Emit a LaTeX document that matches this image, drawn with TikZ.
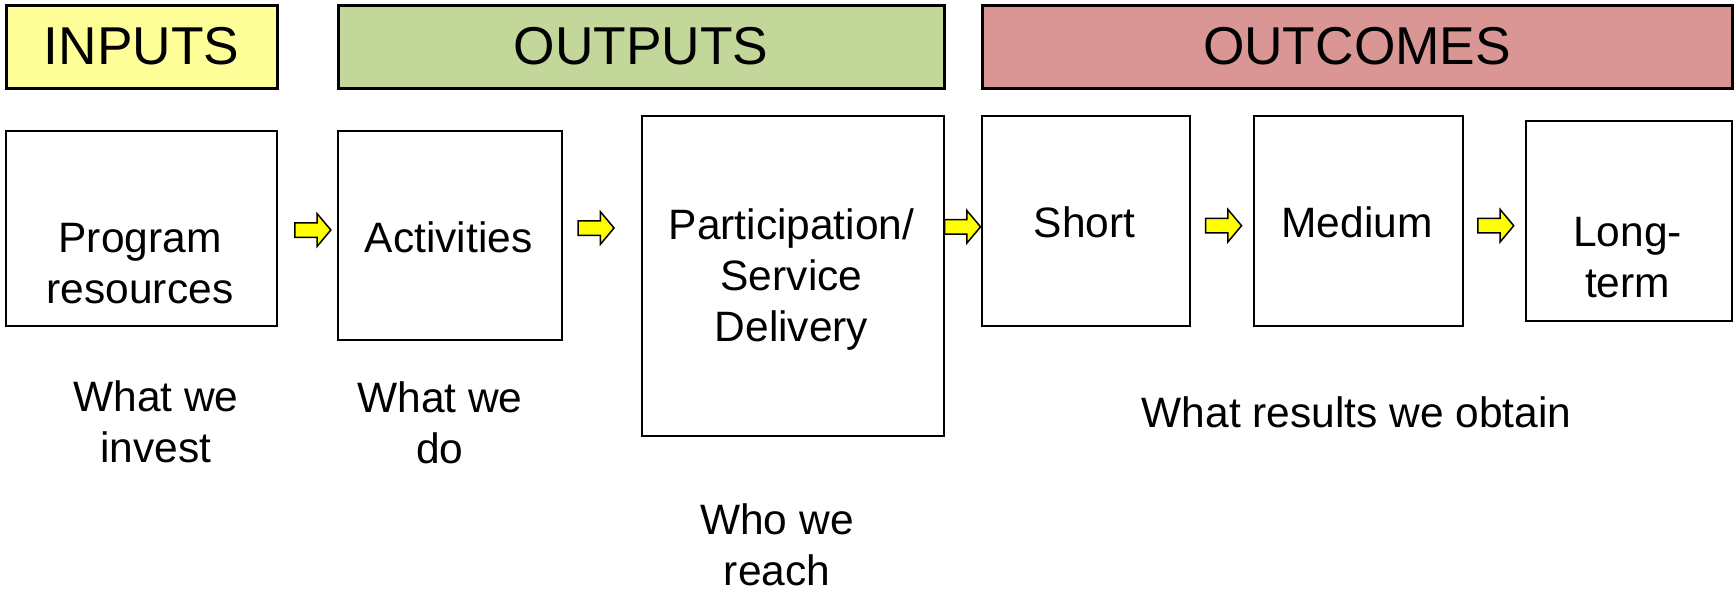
\documentclass[tikz,border=0pt]{standalone}
\usepackage{fontspec}
\setmainfont{Liberation Sans}
\usetikzlibrary{shapes.arrows}
\definecolor{inyel}{HTML}{FFFF99}
\definecolor{outgrn}{HTML}{C4D79B}
\definecolor{outred}{HTML}{D99694}
\definecolor{arryel}{HTML}{FFFF00}
\tikzset{
  header/.style={draw=black, line width=3pt, anchor=north west, inner sep=0pt},
  htext/.style={inner sep=0pt, font=\fontsize{53.3}{60}\selectfont},
  stagebox/.style={draw=black, line width=2pt, anchor=north west, inner sep=0pt, fill=white},
  lbl/.style={align=center, inner sep=0pt, font=\fontsize{42.5}{51}\selectfont},
  yarrow/.style={single arrow, draw=black, line width=1.5pt, fill=arryel, inner sep=6.5pt,
    single arrow head extend=9pt, minimum height=36pt, single arrow tip angle=100}
}
\begin{document}
\begin{tikzpicture}[x=1pt,y=-1pt]
\useasboundingbox (0,0) rectangle (1735,592);
% headers
\node[header, fill=inyel, minimum width=271pt, minimum height=83pt] (hin) at (4.5,3.5) {};
\node[htext] at (hin.center) (thin) {INPUTS};
\node[header, fill=outgrn, minimum width=606pt, minimum height=83pt] (hout) at (336.5,3.5) {};
\node[htext] at (hout.center) (thout) {OUTPUTS};
\node[header, fill=outred, minimum width=750pt, minimum height=83pt] (hoc) at (980.5,3.5) {};
\node[htext] at (hoc.center) (thoc) {OUTCOMES};
% boxes
\node[stagebox, minimum width=271pt, minimum height=195pt] (pr) at (4.5,129.5) {};
\node[stagebox, minimum width=224.5pt, minimum height=209pt] (act) at (336.5,129.5) {};
\node[stagebox, minimum width=302pt, minimum height=320pt] (part) at (640.7,115) {};
\node[stagebox, minimum width=208pt, minimum height=210pt] (short) at (980.5,115) {};
\node[stagebox, minimum width=209pt, minimum height=210pt] (med) at (1252.6,115) {};
\node[stagebox, minimum width=206pt, minimum height=200pt] (long) at (1524.8,119.5) {};
% box texts
\node[lbl] (tpr) at (140,264) {Program\\resources};
\node[lbl] (tact) at (448.5,237) {Activities};
\node[lbl] (tpart) at (791.5,280) {Participation/\\Service\\Delivery};
\node[lbl] (tshort) at (1084.5,222.5) {Short};
\node[lbl] (tmed) at (1357,222.5) {Medium};
\node[lbl] (tlong) at (1627.5,258) {Long-\\term};
% arrows
\node[yarrow] (a1) at (309.8,230) {};
\node[yarrow] (a2) at (593,228) {};
\node[yarrow] (a3) at (959.5,226.8) {};
\node[yarrow] (a4) at (1220.5,225.7) {};
\node[yarrow] (a5) at (1492.7,225.7) {};
% labels below
\node[lbl] (linv) at (156,422) {What we\\invest};
\node[lbl] (ldo) at (440,423) {What we\\do};
\node[lbl] (lreach) at (777,545) {Who we\\reach};
\node[lbl] (lres) at (1356.6,412) {What results we obtain};
\end{tikzpicture}
\end{document}
